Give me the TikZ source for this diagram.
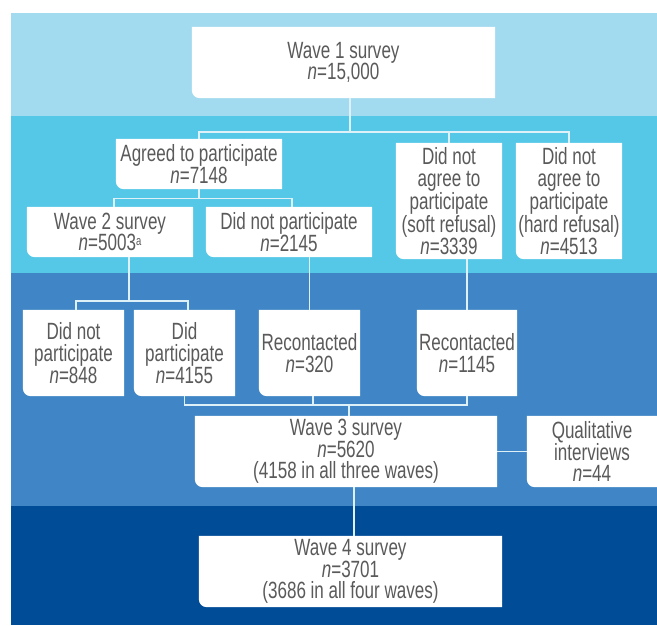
\documentclass[tikz,border=0pt]{standalone}
\usepackage{fontspec}
\setmainfont[FakeStretch=0.725]{Liberation Sans}
\definecolor{bandA}{RGB}{162,219,239}
\definecolor{bandB}{RGB}{84,200,230}
\definecolor{bandC}{RGB}{64,134,198}
\definecolor{bandD}{RGB}{0,76,150}
\definecolor{linkcol}{RGB}{222,240,248}
\definecolor{txtgray}{RGB}{90,90,90}
\pgfdeclarelayer{bands}
\pgfdeclarelayer{cards}
\pgfsetlayers{bands,cards,main}

\begin{document}
\begin{tikzpicture}[x=1pt,y=-1pt,
  card/.style={align=center,inner sep=0pt,text=txtgray,
    font=\fontsize{23.5}{21.7}\selectfont},
  link/.style={draw=linkcol,line width=1.2pt}]
  \useasboundingbox (0,0) rectangle (657,625);

  % boxes
  \node[card,minimum width=303pt,minimum height=71pt] (w1) at (343.5,62.5)
  {Wave 1 survey\\\textit{n}=15,000};
  \node[card,minimum width=166pt,minimum height=50pt] (agreed) at (199,164)
  {Agreed to participate\\\textit{n}=7148};
  \node[card,minimum width=106pt,minimum height=116pt] (soft) at (449,201)
  {Did not\\agree to\\participate\\(soft refusal)\\\textit{n}=3339};
  \node[card,minimum width=106pt,minimum height=116pt] (hard) at (569,201)
  {Did not\\agree to\\participate\\(hard refusal)\\\textit{n}=4513};
  \node[card,minimum width=166pt,minimum height=50pt] (w2) at (110,232)
  {Wave 2 survey\\\textit{n}=5003\raisebox{5pt}{\fontsize{13}{13}\selectfont a}};
  \node[card,minimum width=166pt,minimum height=50pt] (dnp) at (289,232)
  {Did not participate\\\textit{n}=2145};
  \node[card,minimum width=101pt,minimum height=86pt] (dnpw) at (73.5,353)
  {Did not\\participate\\\textit{n}=848};
  \node[card,minimum width=101pt,minimum height=86pt] (didp) at (184.5,353)
  {Did\\participate\\\textit{n}=4155};
  \node[card,minimum width=101pt,minimum height=86pt] (rec) at (309.5,353)
  {Recontacted\\\textit{n}=320};
  \node[card,minimum width=100pt,minimum height=86pt] (recs) at (467,353)
  {Recontacted\\\textit{n}=1145};
  \node[card,minimum width=302pt,minimum height=71pt] (w3) at (346,451.5)
  {Wave 3 survey\\\textit{n}=5620\\(4158 in all three waves)};
  \node[card,minimum width=130pt,minimum height=71pt] (qual) at (592,451.5)
  {Qualitative\\interviews\\\textit{n}=44};
  \node[card,minimum width=303pt,minimum height=71pt] (w4) at (350.5,571.5)
  {Wave 4 survey\\\textit{n}=3701\\(3686 in all four waves)};

  % colour bands
  \begin{pgfonlayer}{bands}
    \fill[bandA] (11,13) rectangle (657,116);
    \fill[bandB] (11,116) rectangle (657,272.5);
    \fill[bandC] (11,272.5) rectangle (657,506);
    \fill[bandD] (11,506) rectangle (657,625);
  \end{pgfonlayer}

  % white cards, bottom left corner rounded
  \begin{pgfonlayer}{cards}
    \foreach \b in {w1,agreed,soft,hard,w2,dnp,dnpw,didp,rec,recs,w3,qual,w4}
      \fill[white] (\b.north west) -- (\b.north east) -- (\b.south east)
        -- ([xshift=8pt]\b.south west)
        arc[start angle=270,end angle=180,radius=8pt] -- cycle;
  \end{pgfonlayer}

  % connectors
  \coordinate (j1) at (350,132);
  \coordinate (j2) at (199,198.5);
  \coordinate (j3) at (129,301);
  \coordinate (j4) at (349,405);
  \draw[link] (j1 |- w1.south) -- (j1);
  \draw[link] (agreed.north) |- (j1) -| (hard.north);
  \draw[link] (soft.north) -- (soft.north |- j1);
  \draw[link] (agreed.south) -- (j2);
  \draw[link] ([xshift=4pt]w2.north) |- (j2) -| ([xshift=3pt]dnp.north);
  \draw[link] (j3 |- w2.south) -- (j3);
  \draw[link] ([xshift=2.5pt]dnpw.north) |- (j3) -| ([xshift=3.5pt]didp.north);
  \draw[link] (rec.north |- dnp.south) -- (rec.north);
  \draw[link] (recs.north |- soft.south) -- (recs.north);
  \draw[link] (didp.south) |- (recs.south |- j4) -- (recs.south);
  \draw[link] ([xshift=3.5pt]rec.south) -- ([xshift=3.5pt]rec.south |- j4);
  \draw[link] (j4) -- (j4 |- w3.north);
  \draw[link] (w3.east) -- (qual.west);
  \draw[link] ([xshift=3.5pt]w4.north) -- ([xshift=3.5pt]w4.north |- w3.south);
\end{tikzpicture}
\end{document}
